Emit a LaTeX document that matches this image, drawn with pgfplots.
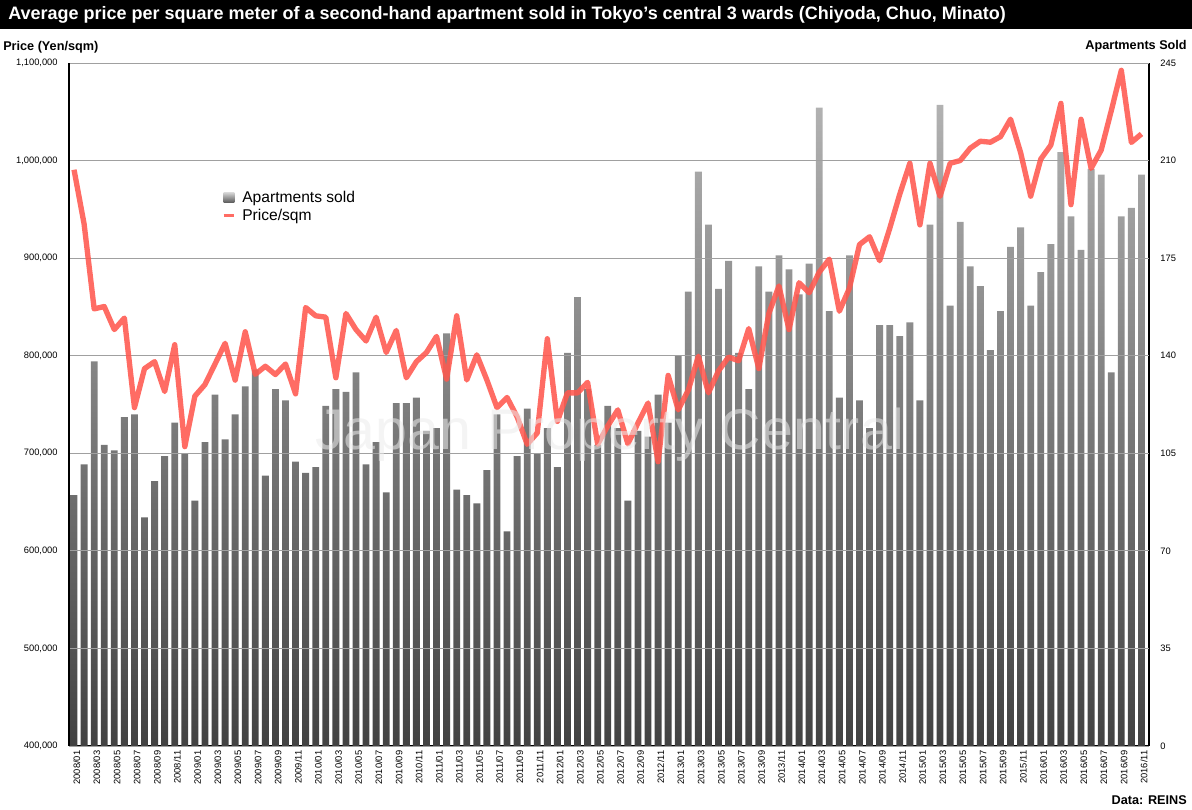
\documentclass[border=0pt]{standalone}
\usepackage{pgfplots}
\pgfplotsset{compat=1.18}
\usepackage{pgfplotstable}
\usepackage{fontspec}
\setmainfont{Liberation Sans}

\definecolor{pricered}{RGB}{255,88,78}
\definecolor{gridgray}{RGB}{160,160,160}
\definecolor{bartop}{RGB}{178,178,178}
\definecolor{barbot}{RGB}{66,66,66}

% apartments sold per month, 2008/01 = 0
\pgfplotstableread{
idx n
0 90
1 101
2 138
3 108
4 106
5 118
6 119
7 82
8 95
9 104
10 116
11 105
12 88
13 109
14 126
15 110
16 119
17 129
18 135
19 97
20 128
21 124
22 102
23 98
24 100
25 122
26 128
27 127
28 134
29 101
30 109
31 91
32 123
33 123
34 125
35 113
36 114
37 148
38 92
39 90
40 87
41 99
42 119
43 77
44 104
45 121
46 105
47 114
48 100
49 141
50 161
51 128
52 108
53 122
54 114
55 88
56 113
57 111
58 126
59 116
60 140
61 163
62 206
63 187
64 164
65 174
66 141
67 128
68 172
69 163
70 176
71 171
72 162
73 173
74 229
75 156
76 125
77 176
78 124
79 114
80 151
81 151
82 147
83 152
84 124
85 187
86 230
87 158
88 188
89 172
90 165
91 142
92 156
93 179
94 186
95 158
96 170
97 180
98 213
99 190
100 178
101 207
102 205
103 134
104 190
105 193
106 205
}\soldtable

% average price, yen per sqm
\pgfplotstableread{
idx p
0 990600
1 935000
2 848000
3 850400
4 826800
5 838600
6 746800
7 786800
8 793900
9 763300
10 811300
11 706800
12 758600
13 770400
14 791500
15 812700
16 775000
17 824500
18 781000
19 789200
20 780700
21 791500
22 760900
23 849400
24 840900
25 839500
26 777400
27 843300
28 826800
29 815100
30 839500
31 803300
32 825900
33 777400
34 793900
35 803300
36 819800
37 776000
38 840900
39 775100
40 800900
41 775100
42 746800
43 757200
44 737400
45 709200
46 720900
47 817400
48 732700
49 761900
50 761900
51 772700
52 709200
53 728000
54 744500
55 709600
56 731000
57 751500
58 691300
59 779800
60 744500
61 764700
62 799500
63 761900
64 784500
65 798600
66 794800
67 827800
68 786800
69 843300
70 871500
71 826800
72 874800
73 864500
74 885600
75 899000
76 845600
77 869200
78 913900
79 921900
80 897400
81 930400
82 965600
83 997200
84 934100
85 997200
86 963300
87 997200
88 1000000
89 1012700
90 1019800
91 1018800
92 1024500
93 1042400
94 1008200
95 963500
96 1001500
97 1015800
98 1058600
99 954800
100 1042300
101 992000
102 1010700
103 1051000
104 1092500
105 1018600
106 1027300
}\pricetable

\begin{document}
\begin{tikzpicture}
\pgfplotsset{
  common/.style={
    scale only axis, width=810pt, height=512.25pt,
    xmin=-0.5, xmax=106.75,
    major tick length=0pt,
    /pgf/number format/assume math mode=true,
    tick label style={font=\fontsize{7}{8}\selectfont},
    axis line style={black, line width=0.8pt},
  }
}
% bars, right axis
\begin{axis}[common,
  ymin=0, ymax=245, ytick={0,35,...,245},
  axis y line*=right, axis x line*=bottom,
  xtick={0,2,...,106},
  xticklabels={2008/01,2008/03,2008/05,2008/07,2008/09,2008/11,
    2009/01,2009/03,2009/05,2009/07,2009/09,2009/11,
    2010/01,2010/03,2010/05,2010/07,2010/09,2010/11,
    2011/01,2011/03,2011/05,2011/07,2011/09,2011/11,
    2012/01,2012/03,2012/05,2012/07,2012/09,2012/11,
    2013/01,2013/03,2013/05,2013/07,2013/09,2013/11,
    2014/01,2014/03,2014/05,2014/07,2014/09,2014/11,
    2015/01,2015/03,2015/05,2015/07,2015/09,2015/11,
    2016/01,2016/03,2016/05,2016/07,2016/09,2016/11},
  xticklabel style={rotate=90, anchor=east, yshift=-2pt},
  yticklabel style={anchor=west, xshift=5pt},
]
\addplot[ybar, bar width=0.68, draw=none, top color=bartop, bottom color=barbot]
  table[x=idx, y=n]{\soldtable};
\end{axis}
% price line, left axis
\begin{axis}[common,
  ymin=400000, ymax=1100000, ytick={400000,500000,...,1100000},
  scaled y ticks=false,
  yticklabel style={anchor=east, xshift=-5pt,
    /pgf/number format/.cd, fixed, precision=0, 1000 sep={,}},
  axis x line=none, axis y line*=left,
  ymajorgrids, grid style={gridgray, line width=0.6pt},
  legend style={draw=none, fill=none, at={(0.138,0.82)}, anchor=north west,
    font=\fontsize{11.7}{13}\selectfont, row sep=-1pt},
  legend cell align=left,
]
\addlegendimage{legend image code/.code={
  \path[draw=none, fill=none] (0pt,0pt) -- (12.5pt,0pt);
  \fill[draw=none, top color=bartop!60!white, bottom color=barbot!85] (0.5pt,-3pt) rectangle (8.5pt,4pt);}}
\addlegendentry{Apartments sold}
\addplot[pricered, opacity=0.88, line width=4pt, line join=round, mark=none,
  legend image code/.code={
    \path[draw=none, fill=none] (0pt,0pt) -- (12.5pt,0pt);
    \draw[pricered, line width=2pt] (0.5pt,0pt) -- (8.5pt,0pt);}]
  table[x=idx, y=p]{\pricetable};
\addlegendentry{Price/sqm}
\end{axis}
\begin{scope}[x=0.75pt, y=-0.75pt, shift={(-51.75pt,559.5pt)}]
\path (0,0) rectangle (1192,810);
\fill[black] (0,0) rectangle (1192,29);
\node[anchor=west, inner sep=0, text=white, font=\bfseries\fontsize{13.5}{15}\selectfont]
  at (8,15) {Average price per square meter of a second-hand apartment sold in Tokyo’s central 3 wards (Chiyoda, Chuo, Minato)};
\node[anchor=west, inner sep=0, font=\bfseries\fontsize{9.5}{11}\selectfont]
  at (3,47) {Price (Yen/sqm)};
\node[anchor=east, inner sep=0, font=\bfseries\fontsize{9.5}{11}\selectfont]
  at (1187,46) {Apartments Sold};
\node[anchor=east, inner sep=0, font=\bfseries\fontsize{9.5}{11}\selectfont]
  at (1187,800) {Data: REINS};
\node[inner sep=0, text=white!92!black, opacity=0.55, font=\fontsize{43}{43}\selectfont]
  at (610,435) {Japan Property Central};
\end{scope}
\end{tikzpicture}
\end{document}
